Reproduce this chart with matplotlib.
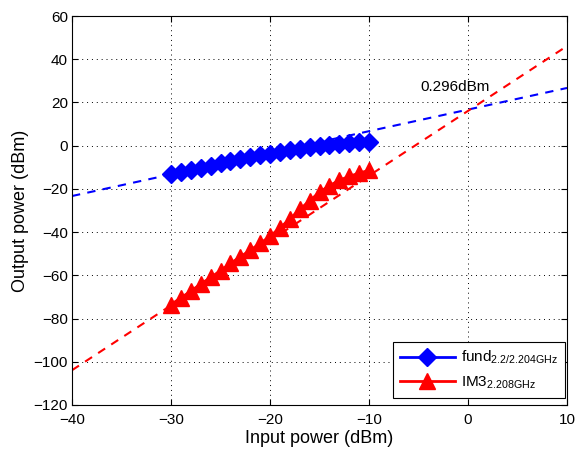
import matplotlib
matplotlib.use("Agg")
import matplotlib.pyplot as plt
import numpy as np

plt.rcParams['font.family'] = ['Liberation Sans', 'DejaVu Sans']
plt.rcParams['mathtext.fontset'] = 'custom'
plt.rcParams['mathtext.rm'] = 'Liberation Sans'
plt.rcParams['mathtext.it'] = 'Liberation Sans'

# Data
pin = list(range(-30, -9))
fund = [-13.3, -12.2, -11.3, -10.5, -9.2, -8.0, -7.1, -6.1, -5.2, -4.5, -3.9,
        -3.0, -2.2, -1.4, -0.7, -0.1, 0.4, 0.8, 1.1, 1.5, 1.8]
im3 = [-73.5, -70.4, -67.3, -64.0, -61.0, -57.8, -54.5, -51.4, -48.4, -45.2, -42.0,
       -38.0, -34.0, -29.5, -25.5, -21.5, -18.5, -16.0, -14.2, -12.7, -11.4]
fit_x = [-40, 10]
fund_fit = [-23.3, 26.7]
im3_fit = [-103.9, 46.1]
iip3_label = "0.296dBm"
iip3_pos = (-4.8, 27)
xticks = list(range(-40, 11, 10))
yticks = list(range(-120, 61, 20))

fig = plt.figure(figsize=(5.77, 4.51), dpi=100)
ax = fig.add_axes([0.1248, 0.102, 0.8579, 0.8625])

ax.plot(fit_x, fund_fit, '--', color='#0000ff', lw=1.5, dashes=(4, 3.5))
ax.plot(fit_x, im3_fit, '--', color='#ff0000', lw=1.5, dashes=(4, 3.5))
ax.plot(pin, fund, '-', color='#0000ff', lw=2, marker='D', ms=9,
        mfc='#0000ff', mec='#0000ff', label='fund$_{2.2/2.204\\mathrm{GHz}}$')
ax.plot(pin, im3, '-', color='#ff0000', lw=2, marker='^', ms=11,
        mfc='#ff0000', mec='#ff0000', label='IM3$_{2.208\\mathrm{GHz}}$')

ax.text(iip3_pos[0], iip3_pos[1], iip3_label, fontsize=11, va='center', ha='left')

ax.set_xlim(-40, 10)
ax.set_ylim(-120, 60)
ax.set_xticks(xticks)
ax.set_yticks(yticks)
ax.set_xticklabels([str(v).replace('-', '\u2212') for v in xticks])
ax.set_yticklabels([str(v).replace('-', '\u2212') for v in yticks])
ax.tick_params(direction='in', labelsize=11, length=4, top=True, right=True)
ax.tick_params(axis='x', pad=6)
ax.tick_params(axis='y', pad=3)
ax.grid(True, linestyle=(0, (1, 4)), color='black', lw=0.7)
ax.set_xlabel('Input power (dBm)', fontsize=13, labelpad=2)
ax.set_ylabel('Output power (dBm)', fontsize=13, labelpad=3)
for s in ax.spines.values():
    s.set_linewidth(0.8)

leg = ax.legend(loc='lower right', bbox_to_anchor=(0.996, 0.018), numpoints=1,
                fontsize=11, frameon=True, fancybox=False, edgecolor='black',
                framealpha=1, handlelength=3.6, borderaxespad=0.0,
                labelspacing=0.55, borderpad=0.45, handletextpad=0.4)
leg.get_frame().set_linewidth(0.8)

fig.savefig('out.png', dpi=100)
